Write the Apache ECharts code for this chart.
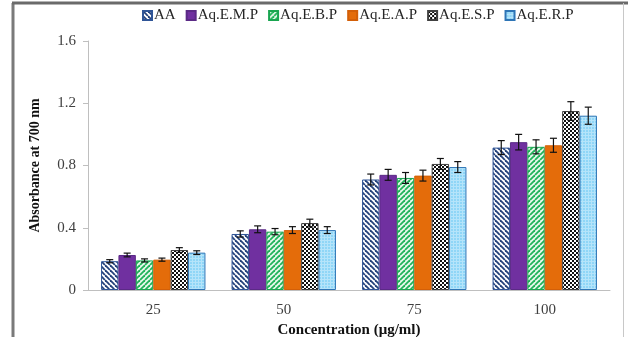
<!DOCTYPE html>
<html><head><meta charset="utf-8">
<script src="https://cdn.jsdelivr.net/npm/echarts@6/dist/echarts.min.js"></script>
<style>html,body{margin:0;padding:0;background:#fff}#c{width:628px;height:337px}</style>
</head><body><div id="c"></div>
<script>
const categories = ['25', '50', '75', '100'];
const seriesNames = ['AA', 'Aq.E.M.P', 'Aq.E.B.P', 'Aq.E.A.P', 'Aq.E.S.P', 'Aq.E.R.P'];
const valAA  = [0.185, 0.36, 0.71, 0.915];
const valEMP = [0.225, 0.39, 0.74, 0.95];
const valEBP = [0.19, 0.375, 0.72, 0.92];
const valEAP = [0.195, 0.385, 0.735, 0.93];
const valESP = [0.257, 0.43, 0.81, 1.15];
const valERP = [0.24, 0.385, 0.79, 1.12];
const errAA  = [0.01, 0.02, 0.035, 0.045];
const errEMP = [0.012, 0.022, 0.035, 0.05];
const errEBP = [0.01, 0.02, 0.035, 0.045];
const errEAP = [0.01, 0.022, 0.035, 0.045];
const errESP = [0.015, 0.025, 0.035, 0.06];
const errERP = [0.012, 0.022, 0.035, 0.055];
const yTicks = [0, 0.4, 0.8, 1.2, 1.6];

const values = [valAA, valEMP, valEBP, valEAP, valESP, valERP];
const errors = [errAA, errEMP, errEBP, errEAP, errESP, errERP];

function pattern(draw, w, h) {
  const c = document.createElement('canvas');
  c.width = w; c.height = h || w;
  draw(c.getContext('2d'), w, h || w);
  return { image: c, repeat: 'repeat' };
}
const patAA = pattern((g, s) => {
  g.fillStyle = '#fff'; g.fillRect(0, 0, s, s);
  g.strokeStyle = '#23417a'; g.lineWidth = 1.8;
  for (const x0 of [-s, 0, s]) { g.beginPath(); g.moveTo(x0, 0); g.lineTo(x0 + s, s); g.stroke(); }
}, 5);
const patEBP = pattern((g, s) => {
  g.fillStyle = '#e6f7ea'; g.fillRect(0, 0, s, s);
  g.strokeStyle = '#1fb35a'; g.lineWidth = 1.8;
  for (const x0 of [-s, 0, s]) { g.beginPath(); g.moveTo(x0, s); g.lineTo(x0 + s, 0); g.stroke(); }
}, 5);
const patESP = pattern((g, s) => {
  g.fillStyle = '#fff'; g.fillRect(0, 0, s, s);
  g.fillStyle = '#111';
  g.fillRect(0, 0, 2, 2); g.fillRect(2, 2, 2, 2);
}, 4);
const patERP = pattern((g, s) => {
  g.fillStyle = '#8fd6f7'; g.fillRect(0, 0, s, s);
  g.fillStyle = '#b5e4fa';
  g.fillRect(0, 0, s, 1); g.fillRect(0, 0, 1, s);
}, 3);

const fills = [patAA, '#7030a0', patEBP, '#e46c0a', patESP, patERP];
const borders = ['#2f5597', '#5b2a86', '#19a550', '#d35f08', '#404040', '#2e75b6'];

const FONT = 'Liberation Serif';
const barSeries = seriesNames.map((n, i) => ({
  name: n, type: 'bar', data: values[i],
  barGap: '0%', barCategoryGap: '20%',
  itemStyle: { color: fills[i], borderColor: borders[i], borderWidth: 1 },
  emphasis: { disabled: true }
}));

const errData = [];
values.forEach((arr, si) => arr.forEach((v, ci) => errData.push([ci, v, errors[si][ci], si])));

const chart = echarts.init(document.getElementById('c'), null, { renderer: 'canvas' });
chart.setOption({
  animation: false,
  grid: { left: 88, right: 18, top: 41, bottom: 47, outerBoundsMode: 'none', containLabel: false },
  legend: {
    data: seriesNames, top: 3, left: 137, itemWidth: 9, itemHeight: 9, itemGap: 10,
    icon: 'rect',
    textStyle: { fontFamily: FONT, fontSize: 15, color: '#262626', padding: [0, 0, 0, -3] }
  },
  xAxis: {
    type: 'category', data: categories,
    name: 'Concentration (μg/ml)', nameLocation: 'middle', nameGap: 31,
    nameTextStyle: { fontFamily: FONT, fontSize: 15, fontWeight: 'bold', color: '#111' },
    axisLine: { lineStyle: { color: '#bfbfbf', width: 1 } },
    axisTick: { show: false },
    axisLabel: { fontFamily: FONT, fontSize: 15, color: '#404040', margin: 13 }
  },
  yAxis: {
    type: 'value', min: 0, max: 1.6, interval: 0.4,
    name: 'Absorbance at 700 nm', nameLocation: 'middle', nameGap: 46,
    nameTextStyle: { fontFamily: FONT, fontSize: 14, fontWeight: 'bold', color: '#111' },
    axisLine: { show: true, lineStyle: { color: '#bfbfbf' } },
    axisTick: { show: true, length: 5, lineStyle: { color: '#bfbfbf' } },
    splitLine: { show: false },
    axisLabel: { fontFamily: FONT, fontSize: 15, color: '#404040', margin: 12,
      formatter: v => yTicks.includes(+v.toFixed(1)) ? String(+v.toFixed(1)) : '' }
  },
  series: barSeries.concat([{
    type: 'custom', name: 'err', data: errData, z: 5,
    encode: { x: 0, y: 1 },
    renderItem: (params, api) => {
      const ci = api.value(0), v = api.value(1), e = api.value(2), si = api.value(3);
      const band = api.size([1, 0])[0];
      const bw = band * 0.8 / 6;
      const cx = api.coord([ci, v])[0] - band * 0.4 + (si + 0.5) * bw;
      const yt = api.coord([ci, v + e])[1], yb = api.coord([ci, v - e])[1];
      const cap = 3.5;
      const st = { stroke: '#111', lineWidth: 1.2 };
      return { type: 'group', children: [
        { type: 'line', shape: { x1: cx, y1: yt, x2: cx, y2: yb }, style: st },
        { type: 'line', shape: { x1: cx - cap, y1: yt, x2: cx + cap, y2: yt }, style: st },
        { type: 'line', shape: { x1: cx - cap, y1: yb, x2: cx + cap, y2: yb }, style: st }
      ]};
    }
  }]),
  graphic: [
    { type: 'line', shape: { x1: 13, y1: 3, x2: 13, y2: 337 }, style: { stroke: '#7a7a7a', lineWidth: 3 } },
    { type: 'line', shape: { x1: 12, y1: 3, x2: 628, y2: 3 }, style: { stroke: '#6a6a6a', lineWidth: 3 } },
    { type: 'line', shape: { x1: 623.5, y1: 3, x2: 623.5, y2: 337 }, style: { stroke: '#c8c8c8', lineWidth: 1 } }
  ]
});
</script></body></html>
